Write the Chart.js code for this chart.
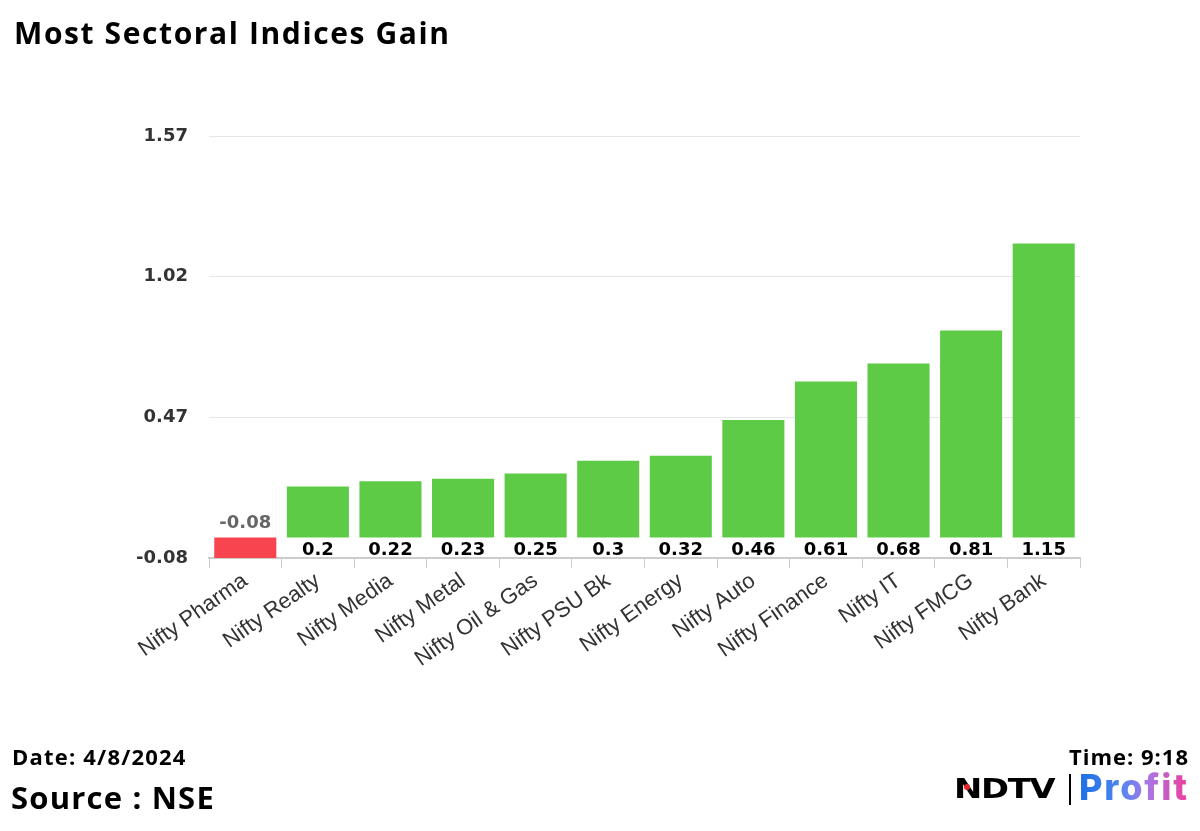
<!DOCTYPE html>
<html>
<head>
<meta charset="utf-8">
<script src="https://cdn.jsdelivr.net/npm/chart.js@4"></script>
<style>
  html, body { margin: 0; padding: 0; background: #fff; }
  #wrap { position: relative; width: 1200px; height: 831px; overflow: hidden; }
  #chart { position: absolute; left: 0; top: 0; }
  .txt { position: absolute; font-family: "Open Sans", "Noto Sans", sans-serif; font-weight: 700; color: #000; white-space: nowrap; line-height: 1; }
  #title { left: 14px; top: 18px; font-size: 30px; letter-spacing: 1.6px; }
  #date { left: 12px; top: 745px; font-size: 22px; letter-spacing: 1.2px; }
  #source { left: 11px; top: 782px; font-size: 31px; letter-spacing: 1.2px; }
  #time { right: 11px; top: 745px; font-size: 22px; letter-spacing: 1px; }
  #ndtv { position: absolute; left: 954px; top: 775px; font-family: "DejaVu Sans", sans-serif; font-weight: 900; font-size: 27px; line-height: 1; letter-spacing: -1px; color: #000; transform: scaleX(1.25); transform-origin: left; }
  #dot { position: absolute; left: 964px; top: 784px; width: 6px; height: 6px; border-radius: 50%; background: #e3262b; }
  #bar { position: absolute; left: 1069px; top: 774px; width: 2px; height: 31px; background: #000; }
  #profit { position: absolute; left: 1079px; top: 769px; font-family: "Inter", "Open Sans", sans-serif; font-weight: 800; font-size: 36px; line-height: 1; letter-spacing: 1.8px;
            background: linear-gradient(90deg, #1d6fe6 0%, #4f86f0 38%, #a878e6 62%, #f03c9a 100%);
            -webkit-background-clip: text; background-clip: text; color: transparent; }
</style>
</head>
<body>
<div id="wrap">
  <canvas id="chart" width="1200" height="831"></canvas>
  <div class="txt" id="title">Most Sectoral Indices Gain</div>
  <div class="txt" id="date">Date: 4/8/2024</div>
  <div class="txt" id="source">Source : NSE</div>
  <div class="txt" id="time">Time: 9:18</div>
  <div id="ndtv">NDTV</div>
  <div id="dot"></div>
  <div id="bar"></div>
  <div id="profit">Profit</div>
</div>
<script>
// Datos del gráfico
var indices = ['Nifty Pharma', 'Nifty Realty', 'Nifty Media', 'Nifty Metal', 'Nifty Oil & Gas', 'Nifty PSU Bk',
               'Nifty Energy', 'Nifty Auto', 'Nifty Finance', 'Nifty IT', 'Nifty FMCG', 'Nifty Bank'];
var ganancias = [-0.08, 0.2, 0.22, 0.23, 0.25, 0.3, 0.32, 0.46, 0.61, 0.68, 0.81, 1.15];
var ejeY = [-0.08, 0.47, 1.02, 1.57];

var verde = '#5ecb46';
var rojo = '#f7444f';
var fuente = '"DejaVu Sans", "Liberation Sans", Arial, sans-serif';

// Etiquetas de valor: positivas debajo del cero, negativas encima
var etiquetas = {
    id: 'etiquetas',
    afterDatasetsDraw: function (chart) {
        var ctx = chart.ctx;
        var y0 = chart.scales.y.getPixelForValue(0);
        var meta = chart.getDatasetMeta(0);
        ctx.save();
        ctx.font = 'bold 18px ' + fuente;
        ctx.textAlign = 'center';
        ctx.textBaseline = 'middle';
        meta.data.forEach(function (bar, i) {
            var v = ganancias[i];
            if (v < 0) {
                ctx.fillStyle = '#666';
                ctx.fillText(v, bar.x, y0 - 14);
            } else {
                ctx.fillStyle = '#000';
                ctx.fillText(v, bar.x, y0 + 13);
            }
        });
        ctx.restore();
    }
};

var ctx = document.getElementById('chart').getContext('2d');
var grafico = new Chart(ctx, {
    type: 'bar',
    data: {
        labels: indices,
        datasets: [{
            data: ganancias,
            backgroundColor: ganancias.map(v => v < 0 ? rojo : verde),
            borderWidth: 0,
            categoryPercentage: 1,
            barPercentage: 0.855
        }]
    },
    options: {
        responsive: false,
        animation: false,
        layout: { padding: { top: 136, right: 120, bottom: 133, left: 0 } },
        plugins: { legend: { display: false }, tooltip: { enabled: false } },
        scales: {
            y: {
                min: -0.08,
                max: 1.57,
                afterBuildTicks: function (scale) {
                    scale.ticks = ejeY.map(v => ({ value: v }));
                },
                afterFit: function (scale) { scale.width = 209; },
                border: { display: false },
                grid: { color: '#e6e6e6', drawTicks: false, lineWidth: 1 },
                ticks: {
                    padding: 21,
                    color: '#333',
                    font: { family: fuente, size: 18, weight: 'bold' },
                    callback: function (v) { return v; }
                }
            },
            x: {
                afterFit: function (scale) { scale.height = 140; },
                border: { color: '#ccc', width: 2 },
                grid: { drawOnChartArea: false, color: '#ccc', tickLength: 10, offset: true },
                ticks: {
                    minRotation: 35,
                    maxRotation: 35,
                    padding: 0,
                    color: '#333',
                    font: { family: '"Liberation Sans", Arial, sans-serif', size: 22 }
                }
            }
        }
    },
    plugins: [etiquetas]
});
</script>
</body>
</html>
